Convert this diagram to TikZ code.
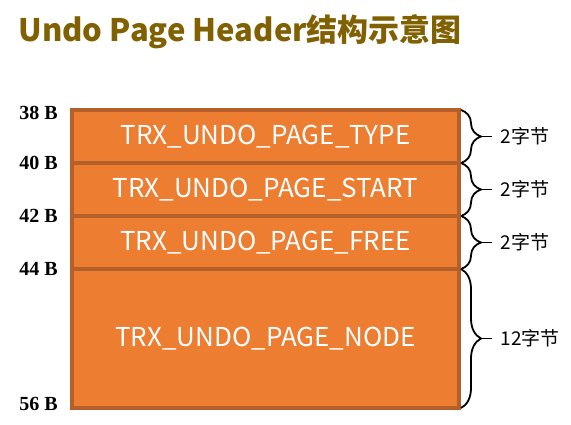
\documentclass[tikz,border=0pt]{standalone}
\usepackage{fontspec}
\setmainfont{Liberation Serif}
\newfontfamily\cjk{Noto Sans CJK SC}
\usetikzlibrary{positioning,decorations.pathreplacing}
\definecolor{fieldfill}{HTML}{ED7D31}
\definecolor{fieldline}{HTML}{B4602A}
\definecolor{titlebrown}{HTML}{806000}

\begin{document}
\begin{tikzpicture}[x=1pt,y=-1pt,
  field/.style={draw=fieldline,line width=3.5pt,fill=fieldfill,text=white,outer sep=0pt,
    minimum width=387pt,inner sep=0pt,font=\cjk\fontsize{26}{30}\selectfont},
  offset/.style={anchor=east,inner sep=0pt,font=\bfseries\fontsize{20}{22}\selectfont},
  sizebrace/.style={decorate,decoration={brace,amplitude=20pt},line width=1.8pt},
  sizetext/.style={anchor=west,inner sep=0pt,font=\cjk\fontsize{19}{22}\selectfont}]
  \useasboundingbox (0,0) rectangle (571,424);
  % title
  \node[anchor=west,text=titlebrown,font=\cjk\bfseries\fontsize{31}{36}\selectfont] (title) at (15,32) {Undo Page Header结构示意图};
  % fields
  \node[field,minimum height=53pt,anchor=north west] (ptype) at (72,110) {TRX\_UNDO\_PAGE\_TYPE};
  \node[field,minimum height=53pt,below=0pt of ptype] (pstart) {TRX\_UNDO\_PAGE\_START};
  \node[field,minimum height=53pt,below=0pt of pstart] (pfree) {TRX\_UNDO\_PAGE\_FREE};
  \node[field,minimum height=139pt,below=0pt of pfree] (pnode) {TRX\_UNDO\_PAGE\_NODE};
  % offsets
  \node[offset] (off38) at ([xshift=-14pt,yshift=-3pt]ptype.north west) {38 B};
  \node[offset] (off40) at ([xshift=-14pt]pstart.north west) {40 B};
  \node[offset] (off42) at ([xshift=-14pt]pfree.north west) {42 B};
  \node[offset] (off44) at ([xshift=-14pt]pnode.north west) {44 B};
  \node[offset] (off56) at ([xshift=-14pt,yshift=4pt]pnode.south west) {56 B};
  % sizes
  \foreach \f/\s/\t in {ptype/s1/2字节,pstart/s2/2字节,pfree/s3/2字节,pnode/s4/12字节}{
    \draw[sizebrace] ([xshift=2pt]\f.north east) -- ([xshift=2pt]\f.south east)
      node[midway,sizetext,xshift=39pt] (\s) {\t};
    \draw[line width=1.6pt] ([xshift=22pt]\f.east) -- ([xshift=-8pt]\s.west);
  }
\end{tikzpicture}
\end{document}
